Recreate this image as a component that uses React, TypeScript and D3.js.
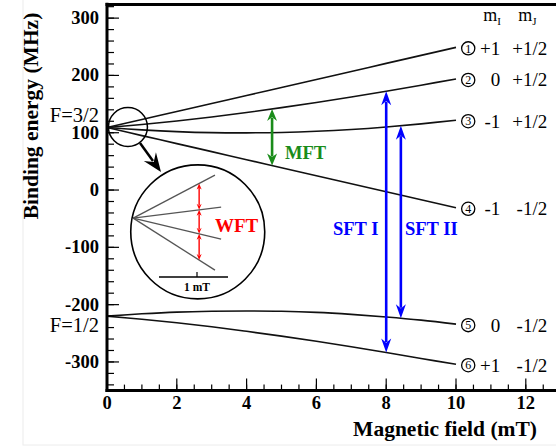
import React from 'react';
import * as d3 from 'd3';

// ---------- data ----------
const bField = [0, 1, 2, 3, 4, 5, 6, 7, 8, 9, 10];
const level1 = [109, 123, 137, 151, 165, 179, 193, 207, 221, 235, 249];
const level2 = [109, 114.3, 120.4, 127.5, 135.3, 143.8, 152.9, 162.5, 172.5, 183, 193.8];
const level3 = [109, 105, 102, 100.2, 99.8, 100.5, 102.5, 105.7, 110.1, 115.5, 121.9];
const level4 = [109, 95, 81, 67, 53, 39, 25, 11, -3, -17, -31];
const level5 = [-220, -216, -213, -211.5, -211, -211.5, -213.5, -217, -221.5, -227, -234];
const level6 = [-220, -225.5, -231.5, -238.5, -246.5, -255, -264, -273.5, -283.5, -294, -304];
const levels = [level1, level2, level3, level4, level5, level6];
const levelNumbers = ['1', '2', '3', '4', '5', '6'];
const mILabels = ['+1', '0', '-1', '-1', '0', '+1'];
const mJLabels = ['+1/2', '+1/2', '+1/2', '-1/2', '-1/2', '-1/2'];

const xTicks = [0, 2, 4, 6, 8, 10, 12];
const xTickLabels = ['0', '2', '4', '6', '8', '10', '12'];
const xMinorTicks = d3.range(0, 12.76, 0.5);
const yTicks = [-300, -200, -100, 0, 100, 200, 300];
const yTickLabels = ['-300', '-200', '-100', '0', '100', '200', '300'];
const yMinorTicks = d3.range(-340, 321, 20);

// transitions: field (mT), from level index, to level index
const transNames = ['MFT', 'SFT I', 'SFT II'];
const transField = [4.73, 8, 8.42];
const transFrom = [1, 1, 2];
const transTo = [3, 5, 4];

// inset (schematic zoom of the low-field fan)
const insetEndT = [0.93, 1, 1, 0.93];
const insetEndV = [-43, -11, 21, 52];
const insetWftT = 0.75;

const W = 556;
const H = 447;
const FONT = "'Liberation Serif', 'Times New Roman', serif";

type P = [number, number];

function headPath(tip: P, from: P, len: number, w: number, notch = 0.3) {
  const dx = tip[0] - from[0];
  const dy = tip[1] - from[1];
  const L = Math.hypot(dx, dy);
  const ux = dx / L, uy = dy / L;
  const px = -uy, py = ux;
  const bx = tip[0] - ux * len, by = tip[1] - uy * len;
  const nx = tip[0] - ux * len * (1 - notch), ny = tip[1] - uy * len * (1 - notch);
  return `M${tip[0]},${tip[1]}L${bx + px * w / 2},${by + py * w / 2}L${nx},${ny}L${bx - px * w / 2},${by - py * w / 2}Z`;
}

function DoubleArrow({ a, b, color, sw, len, w }: { a: P; b: P; color: string; sw: number; len: number; w: number }) {
  const dx = b[0] - a[0], dy = b[1] - a[1];
  const L = Math.hypot(dx, dy);
  const ux = dx / L, uy = dy / L;
  const k = len * 0.75;
  return (
    <g>
      <line x1={a[0] + ux * k} y1={a[1] + uy * k} x2={b[0] - ux * k} y2={b[1] - uy * k} stroke={color} strokeWidth={sw} />
      <path d={headPath(a, b, len, w)} fill={color} />
      <path d={headPath(b, a, len, w)} fill={color} />
    </g>
  );
}

export default function App() {
  const x = d3.scaleLinear().domain([0, 13]).range([107, 107 + 13 * 34.9]);
  const y = d3.scaleLinear().domain([-350, 325]).range([390.6, 3.8]);

  const line = d3
    .line<number>()
    .x((_, i) => x(bField[i]))
    .y((d) => y(d))
    .curve(d3.curveCatmullRom.alpha(0.5));

  const interp = levels.map((lv) => d3.scaleLinear().domain(bField).range(lv));

  const transColors = ['#1a8c1a', '#0000ff', '#0000ff'];
  const x0 = x(0);
  const yBottom = y(-350);
  const yTop = y(325);

  // inset geometry
  const magC: P = [x(0.6), y(110)];
  const magR = 19.5;
  const insC: P = [x(2.6), y(-73)];
  const insR = 67;
  const ix = d3.scaleLinear().domain([0, 1]).range([x(0.75), x(3.27)]);
  const iy = d3.scaleLinear().domain([0, 100]).range([y(-49), y(-49) + 100]);
  const insOrigin: P = [ix(0), iy(0)];
  const insVal = (i: number, t: number) => (insetEndV[i] * t) / insetEndT[i];

  const labelCx = x(10.35);

  return (
    <svg width={W} height={H} style={{ position: 'absolute', left: 0, top: 0, background: '#fff' }} fontFamily={FONT}>
      <rect x={23} y={-2} width={W} height={447} fill="none" stroke="#ececec" strokeWidth={1} />

      {/* level curves */}
      {levels.map((lv, i) => (
        <path key={i} d={line(lv) || ''} fill="none" stroke="#111" strokeWidth={1.6} />
      ))}

      {/* axes frame */}
      <line x1={x0} y1={yTop - 1} x2={x0} y2={yBottom + 1.5} stroke="#000" strokeWidth={3} />
      <line x1={x0 - 1.5} y1={yBottom} x2={W} y2={yBottom} stroke="#000" strokeWidth={3} />
      <line x1={x0 - 1.5} y1={yTop + 0.7} x2={W} y2={yTop + 0.7} stroke="#000" strokeWidth={3} />

      {/* y ticks */}
      {yMinorTicks.map((v) => (
        <line key={'ym' + v} x1={x0} x2={x0 + 7} y1={y(v)} y2={y(v)} stroke="#000" strokeWidth={1.2} />
      ))}
      {yTicks.map((v, i) => (
        <g key={'yM' + v}>
          <line x1={x0} x2={x0 + 12} y1={y(v)} y2={y(v)} stroke="#000" strokeWidth={1.2} />
          <text x={x0 - 8} y={y(v) + 6} textAnchor="end" fontSize={18.5} fontWeight="bold">
            {yTickLabels[i]}
          </text>
        </g>
      ))}

      {/* x ticks */}
      {xMinorTicks.map((v) => (
        <line key={'xm' + v} x1={x(v)} x2={x(v)} y1={yBottom} y2={yBottom - 6} stroke="#000" strokeWidth={1.2} />
      ))}
      {xTicks.map((v, i) => (
        <g key={'xM' + v}>
          <line x1={x(v)} x2={x(v)} y1={yBottom} y2={yBottom - 12} stroke="#000" strokeWidth={1.2} />
          <text x={x(v)} y={409} textAnchor="middle" fontSize={18.5} fontWeight="bold">
            {xTickLabels[i]}
          </text>
        </g>
      ))}

      {/* axis titles */}
      <text transform={`translate(38,116) rotate(-90)`} textAnchor="middle" fontSize={21.5} fontWeight="bold">
        Binding energy (MHz)
      </text>
      <text x={537} y={436} textAnchor="end" fontSize={21.5} fontWeight="bold">
        Magnetic field (mT)
      </text>

      {/* F labels */}
      <text x={x0 - 8} y={y(119.5)} textAnchor="end" fontSize={20.5}>F=3/2</text>
      <text x={x0 - 8} y={y(-248)} textAnchor="end" fontSize={20.5}>F=1/2</text>

      {/* header */}
      <text x={labelCx + 15} y={21} fontSize={18}>
        m<tspan fontSize={11} dy={4}>I</tspan>
      </text>
      <text x={labelCx + 50} y={21} fontSize={18}>
        m<tspan fontSize={11} dy={4}>J</tspan>
      </text>

      {/* level labels */}
      {levels.map((lv, i) => {
        const cy = y(lv[lv.length - 1]) + 1;
        return (
          <g key={'lab' + i}>
            <circle cx={labelCx} cy={cy} r={6.6} fill="#fff" stroke="#000" strokeWidth={1.3} />
            <text x={labelCx} y={cy + 4.2} textAnchor="middle" fontSize={12}>{levelNumbers[i]}</text>
            <text x={labelCx + 32} y={cy + 6.5} textAnchor="end" fontSize={19}>{mILabels[i]}</text>
            <text x={labelCx + 79} y={cy + 6.5} textAnchor="end" fontSize={19}>{mJLabels[i]}</text>
          </g>
        );
      })}

      {/* transitions */}
      {transNames.map((nm, i) => {
        const b = transField[i];
        const a: P = [x(b), y(interp[transFrom[i]](b))];
        const c: P = [x(b), y(interp[transTo[i]](b))];
        return (
          <DoubleArrow key={nm} a={a} b={c} color={transColors[i]} sw={2.6} len={i === 0 ? 12 : 14} w={10} />
        );
      })}
      <text x={285} y={159} fontSize={18.5} fontWeight="bold" fill={transColors[0]}>MFT</text>
      <text x={333} y={235} fontSize={18.5} fontWeight="bold" fill={transColors[1]}>SFT I</text>
      <text x={405} y={235} fontSize={18.5} fontWeight="bold" fill={transColors[2]}>SFT II</text>

      {/* magnifier */}
      <circle cx={magC[0]} cy={magC[1]} r={magR} fill="none" stroke="#000" strokeWidth={1.5} />
      <line x1={140} y1={143} x2={153} y2={161} stroke="#000" strokeWidth={2.5} />
      <path d={headPath([161, 172], [140, 143], 19, 15, 0.35)} fill="#000" />

      {/* inset */}
      <circle cx={insC[0]} cy={insC[1]} r={insR} fill="#fff" stroke="#000" strokeWidth={1.6} />
      {insetEndT.map((t, i) => (
        <line key={'fan' + i} x1={insOrigin[0]} y1={insOrigin[1]} x2={ix(t)} y2={iy(insetEndV[i])} stroke="#555" strokeWidth={1.3} />
      ))}
      {[0, 1, 2].map((i) => (
        <DoubleArrow
          key={'wft' + i}
          a={[ix(insetWftT), iy(insVal(i, insetWftT))]}
          b={[ix(insetWftT), iy(insVal(i + 1, insetWftT))]}
          color="#ff0000"
          sw={1.4}
          len={6}
          w={5}
        />
      ))}
      <text x={215} y={232} fontSize={19} fontWeight="bold" fill="#ff0000">WFT</text>
      <line x1={159} y1={277} x2={228} y2={277} stroke="#000" strokeWidth={1.5} />
      <line x1={197} y1={277} x2={197} y2={272} stroke="#000" strokeWidth={1.2} />
      <text x={197} y={291} textAnchor="middle" fontSize={11.5} fontWeight="bold">1 mT</text>
    </svg>
  );
}
